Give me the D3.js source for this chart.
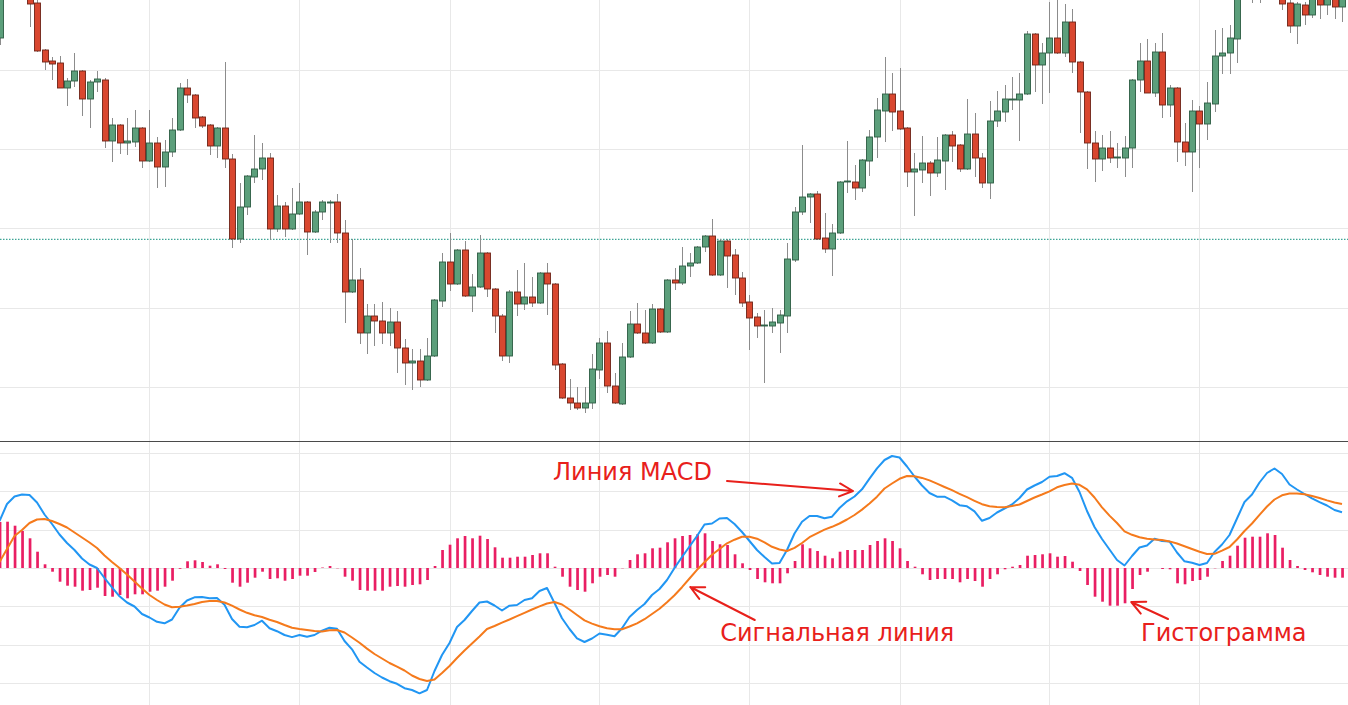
<!DOCTYPE html>
<html>
<head>
<meta charset="utf-8">
<script src="https://cdn.jsdelivr.net/npm/d3@7/dist/d3.min.js"></script>
<style>
  body { margin: 0; background: #fff; overflow: hidden; }
  svg { display: block; }
</style>
</head>
<body>
<div id="chart"></div>
<script>
// candles, one per bar, oldest first (price units)
var openP = [462,520,535,520,506,497,450,439,437,412, 419,429,401,418,420,359,375,357,358,372,
  339,357,333,348,370,412,405,383,375,354, 372,341,261,293,323,331,342,271,294,271,
  286,298,268,288,297,298,267,208,220,167, 184,179,167,178,152,137,139,120,144,199,
  238,216,250,204,213,247,211,184,144,208, 196,203,197,227,216,136,102,97,92,97,
  130,157,114,96,143,176,167,157,191,168, 220,217,234,237,253,264,225,259,245,222,
  198,183,174,174,177,184,240,288,303,306, 262,251,267,318,318,312,339,363,389,406,
  389,372,328,330,337,327,339,365,355,331, 366,342,317,379,388,400,400,406,466,435,
  447,462,447,478,438,408,357,341,352,342, 342,352,420,439,407,448,395,412,358,348,
  389,376,396,444,447,461,515,528,518,530, 520,508,497,474,495,485,503,495,504,493];
var highP = [525,545,550,525,512,500,451,443,444,422, 447,430,420,429,422,382,376,382,390,373,
  390,363,360,382,417,421,406,384,376,373, 438,346,317,325,365,357,347,305,298,312,
  317,299,290,300,300,306,280,261,232,196, 196,198,192,189,161,151,151,162,201,247,
  267,251,259,226,265,248,212,186,210,230, 237,223,228,237,217,137,121,113,113,146,
  162,169,127,157,189,197,190,196,192,221, 232,253,247,254,265,281,261,261,251,228,
  205,187,190,192,190,257,293,355,307,309, 287,276,319,359,335,341,370,402,443,427,
  432,373,347,364,339,363,366,369,356,401, 387,347,399,409,415,423,427,469,467,457,
  498,502,496,491,439,409,369,365,369,357, 364,421,457,461,457,467,415,413,377,400,
  394,418,470,472,475,520,540,540,545,540, 530,515,500,498,498,508,508,510,510,508];
var lowP = [455,510,512,502,473,448,430,420,412,394, 413,384,372,408,352,338,346,345,353,332,
  338,312,313,343,369,397,372,372,345,342, 332,252,257,285,317,320,260,268,263,270,
  285,245,267,280,257,257,177,207,156,146, 154,156,154,127,115,110,113,119,143,193,
  209,215,203,188,212,203,167,139,137,184, 190,193,196,185,130,101,90,90,87,91,
  121,107,96,95,142,166,156,156,167,167, 210,215,223,236,248,224,224,212,205,193,
  150,162,117,167,147,167,238,285,277,260, 247,224,266,307,300,308,324,342,358,369,
  370,313,284,317,304,323,310,338,328,330, 323,312,301,373,378,390,359,405,408,396,
  407,446,443,427,367,331,318,329,337,332, 323,332,408,407,403,382,383,338,334,308,
  332,360,388,426,426,437,508,497,497,505, 503,490,467,456,475,482,481,485,481,478];
var closeP = [515,535,520,508,496,449,438,436,412,419, 429,401,418,421,359,375,357,359,372,339,
  357,333,348,370,412,405,382,374,354,372, 341,261,293,324,331,342,271,294,271,286,
  298,268,288,298,298,267,208,220,167,184, 179,167,178,152,137,139,120,144,200,238,
  216,250,204,213,247,211,184,144,208,196, 203,197,227,216,135,102,97,92,97,131,
  157,114,97,143,176,167,157,191,168,220, 217,234,237,253,264,225,259,244,222,197,
  182,174,175,178,185,241,288,303,306,261, 251,267,318,319,312,340,363,390,406,388,
  371,328,331,337,327,340,365,354,331,366, 342,317,379,389,401,401,406,466,435,447,
  462,447,478,438,408,357,341,352,342,343, 352,420,439,407,448,395,412,358,348,389,
  376,397,444,447,462,515,530,518,530,520, 510,496,474,496,485,503,495,504,493,504];
var lastPrice = 260.7;

// MACD pane, same bars
var macdLine = [47,64,71.5,73.5,73,65.5,53.5,44,33.5,25, 18,9.5,3.5,0,-10,-19.4,-28.3,-34.5,-38.5,-46,
  -49.5,-53.8,-55.3,-51.5,-39.7,-32.5,-29.3,-29,-30.3,-30, -36.7,-51,-58.7,-59.2,-57,-52.7,-60.3,-63.2,-67,-69.1,
  -67,-68.8,-67,-62.7,-59.7,-60.8,-73,-81.3,-93.7,-99.5, -105,-109.5,-113.2,-115.8,-120.2,-122,-125.3,-122,-103,-87,
  -75,-59,-52,-43,-34.5,-33.5,-37.5,-42.5,-37.7,-37, -32,-30.3,-23,-20,-35,-50.3,-61,-70.3,-74,-70.5,
  -65.5,-66.8,-68.3,-60.3,-49,-42,-36,-27,-21,-12, 0,11,21.5,32,43.5,44.5,49.5,50,44,36,
  27,18,11,4.5,5,18,34.5,46.3,52,52, 49.7,51.3,60,66.7,71.5,78.7,89.3,99.7,108,112,
  110.5,101.5,91.5,82.5,75,71.3,71.3,67.7,62.8,61.7, 56.7,47.2,50,55.5,59.5,63.5,70,78.5,82.5,86,
  91.2,92,94.8,90.2,76,57,41,29,18.5,8, 2.5,12,20.5,22.5,29.3,27,26.5,15.5,6.7,5.2,
  3,5,16,23.5,33,49.5,66,73.5,85.5,95, 99.5,94,83.5,78.5,74,69.7,65.8,62.5,58,55.8];
var signalLine = [6,19,32,38,45,48.5,49,47,44,40.5, 35.5,30.5,25.5,20,12.5,6,0,-6.5,-13.5,-20.5,
  -27,-32,-36.5,-39.3,-38.8,-37.5,-36,-34,-33,-33, -34.5,-37.7,-41.5,-44.8,-47.3,-49,-51.7,-54,-57,-59.8,
  -61,-62,-63,-63.5,-62.2,-62,-64.5,-69.5,-74.8,-80.6, -86,-90.5,-95,-98.7,-102.5,-107.5,-111,-113,-111.5,-105,
  -98,-90,-82.5,-75.5,-68.5,-61,-58,-54.6,-51.5,-48.2, -44.8,-41.5,-38.4,-35.5,-34,-36.5,-41.5,-47,-52.4,-55.6,
  -58.3,-60.2,-61.2,-61.3,-58.5,-55.3,-51.2,-46,-40.8,-34.2, -27.3,-19.2,-10.5,-1.8,5.8,13.2,19,24.7,28.3,31.3,
  31.3,29.3,25.7,21.2,18.5,17,20.2,25,30.8,34.7, 38.4,41.2,44.5,48.5,53,58.4,64.5,71.3,79.5,84.5,
  89.2,92,91.7,90.1,87.6,84.3,81,77.8,74.2,70.8, 67.2,63.8,61.8,61,60.7,62,63.5,67,70.5,73.5,
  76.7,80.7,83,84.5,83.2,78.7,70.5,60.7,52.4,45, 36.7,33.2,30.8,29.2,28.5,28,26.6,24.5,21.8,19,
  16.2,14,14.2,17.4,21,28.5,37,44.5,53.2,61.5, 68.5,72.7,74.4,74.4,73.7,72,70,67.6,65.5,64];
var histogram = [46,46.3,42.3,37,29.7,16.3,3.7,-3.7,-13.7,-17.7, -18.7,-22.7,-22,-19.7,-28,-28.7,-27,-30.3,-26.3,-26.3,
  -23.7,-22.7,-18.7,-12.7,-0.8,6.7,7.7,6,2.3,3.7, -1,-14.7,-18.7,-14.7,-9.7,-3.7,-11,-10.3,-12.7,-11,
  -7.7,-7.7,-4,0.5,2,-0.3,-8.7,-12.7,-22,-22.7, -22.7,-22.7,-18.7,-18,-18.7,-17,-16.3,-12,2,18,
  23.3,29.7,32,29.7,32.3,29,20.7,10.3,10.3,11.3, 11.3,13,14.7,14.7,1.3,-8.7,-18.7,-22,-23.7,-15.3,
  -8.7,-7,-8.7,-0.3,8,13.7,14.7,19.7,20.3,25.7, 29.7,32,33,33.7,34.7,27,23.7,23,13.7,4.7,
  -2,-11,-14.3,-15.3,-15.3,-5.3,7,23.7,19.7,17, 12.3,9.7,16.3,18,18,18,23,27,29.7,27,
  19.7,7,1.3,-6.3,-12,-11,-11,-11,-14.3,-11, -13,-18.7,-11,-6.3,-1.3,1.3,3,12.3,13,13.7,
  14.7,11.3,12,6.3,-3,-17,-28.7,-33.7,-37.7,-37.7, -35.3,-21,-7,-3.7,0,-1,-1.3,-15.3,-16.3,-13,
  -12,-8.7,-0.3,7,12.3,22.3,30.3,31.3,31.3,34.7, 33,20.3,8,2,-2,-4.3,-7,-8.7,-9.7,-9.7];

// grid levels
var priceGrid = [430, 350.8, 271.7, 192.5, 113.3];
var macdGrid = [115, 76.7, 38.3, 0, -38.3, -76.7, -115];
var timeGrid = [20, 40, 60, 80, 100, 120, 140, 160];

// callouts, placed in bar / MACD units
var notes = [
  {text: "Линия MACD", tx: 73.8, ty: 88, from: [97, 87], to: [113.8, 77]},
  {text: "Сигнальная линия", tx: 96.1, ty: -73, from: [100.7, -52], to: [92.1, -19]},
  {text: "Гистограмма", tx: 152.2, ty: -73, from: [155.8, -51], to: [150.9, -34]}
];

var width = 1348;
var height = 705;
var split = 441;

var svg = d3.select("#chart").append("svg")
    .attr("width", width)
    .attr("height", height);

var x = d3.scaleLinear().domain([0, 179]).range([-0.5, 1342]);
var yPrice = d3.scaleLinear().domain([500, 59]).range([0, split]);
var yMacd = d3.scaleLinear().domain([127, -137]).range([split, height]);

var defs = svg.append("defs");
defs.append("clipPath").attr("id", "clipTop")
    .append("rect").attr("x", 0).attr("y", 0).attr("width", width).attr("height", split);
defs.append("clipPath").attr("id", "clipBottom")
    .append("rect").attr("x", 0).attr("y", split).attr("width", width).attr("height", height - split);

var gridColor = "#e8e8e8";

// vertical grid, both panes
svg.append("g").selectAll("line")
    .data(timeGrid).enter().append("line")
    .attr("x1", function (d) { return Math.round(x(d)) + 0.5; })
    .attr("x2", function (d) { return Math.round(x(d)) + 0.5; })
    .attr("y1", 0)
    .attr("y2", height)
    .attr("stroke", gridColor);

svg.append("g").selectAll("line")
    .data(priceGrid).enter().append("line")
    .attr("x1", 0).attr("x2", width)
    .attr("y1", function (d) { return Math.round(yPrice(d)) + 0.5; })
    .attr("y2", function (d) { return Math.round(yPrice(d)) + 0.5; })
    .attr("stroke", gridColor);

svg.append("g").selectAll("line")
    .data(macdGrid).enter().append("line")
    .attr("x1", 0).attr("x2", width)
    .attr("y1", function (d) { return Math.round(yMacd(d)) + 0.5; })
    .attr("y2", function (d) { return Math.round(yMacd(d)) + 0.5; })
    .attr("stroke", gridColor);

// price pane
var pricePane = svg.append("g").attr("clip-path", "url(#clipTop)");

pricePane.append("line")
    .attr("x1", 0).attr("x2", width)
    .attr("y1", yPrice(lastPrice)).attr("y2", yPrice(lastPrice))
    .attr("stroke", "#3fa596")
    .attr("stroke-width", 1.3)
    .attr("stroke-dasharray", "1.5,1.5");

var bars = d3.range(openP.length).map(function (i) {
    return {i: i, o: openP[i], h: highP[i], l: lowP[i], c: closeP[i]};
});

pricePane.append("g").selectAll("line")
    .data(bars).enter().append("line")
    .attr("x1", function (d) { return Math.round(x(d.i)) + 0.5; })
    .attr("x2", function (d) { return Math.round(x(d.i)) + 0.5; })
    .attr("y1", function (d) { return yPrice(d.h); })
    .attr("y2", function (d) { return yPrice(d.l); })
    .attr("stroke", "#8c8c8c")
    .attr("stroke-width", 1);

pricePane.append("g").selectAll("rect")
    .data(bars).enter().append("rect")
    .attr("x", function (d) { return Math.round(x(d.i)) - 2.5; })
    .attr("width", 6)
    .attr("y", function (d) { return yPrice(Math.max(d.o, d.c)); })
    .attr("height", function (d) { return Math.max(1, Math.abs(yPrice(d.o) - yPrice(d.c))); })
    .attr("fill", function (d) { return d.c >= d.o ? "#5c9f7b" : "#d9472f"; })
    .attr("stroke", function (d) { return d.c >= d.o ? "#2d5c43" : "#6e2418"; })
    .attr("stroke-width", 0.9);

svg.append("line")
    .attr("x1", 0).attr("x2", width)
    .attr("y1", split + 0.5).attr("y2", split + 0.5)
    .attr("stroke", "#4a4a4a")
    .attr("stroke-width", 1.2);

// MACD pane
var macdPane = svg.append("g").attr("clip-path", "url(#clipBottom)");

macdPane.append("g").selectAll("rect")
    .data(histogram).enter().append("rect")
    .attr("x", function (d, i) { return x(i) - 0.8; })
    .attr("width", 2.7)
    .attr("y", function (d) { return yMacd(Math.max(d, 0)); })
    .attr("height", function (d) { return Math.abs(yMacd(d) - yMacd(0)); })
    .attr("fill", "#e91e63");

var line = d3.line()
    .x(function (d, i) { return x(i); })
    .y(function (d) { return yMacd(d); });

macdPane.append("path")
    .datum(macdLine)
    .attr("d", line)
    .attr("fill", "none")
    .attr("stroke", "#2196f3")
    .attr("stroke-width", 2)
    .attr("stroke-linejoin", "round");

macdPane.append("path")
    .datum(signalLine)
    .attr("d", line)
    .attr("fill", "none")
    .attr("stroke", "#f57a1c")
    .attr("stroke-width", 2)
    .attr("stroke-linejoin", "round");

// callouts
var red = "#e8201b";
var ann = svg.append("g");

ann.selectAll("text")
    .data(notes).enter().append("text")
    .attr("x", function (d) { return x(d.tx); })
    .attr("y", function (d) { return yMacd(d.ty); })
    .attr("fill", red)
    .style("font-family", "'DejaVu Sans', Verdana, sans-serif")
    .style("font-size", "24px")
    .text(function (d) { return d.text; });

ann.selectAll("path")
    .data(notes).enter().append("path")
    .attr("d", function (d) {
        var x1 = x(d.from[0]), y1 = yMacd(d.from[1]);
        var x2 = x(d.to[0]), y2 = yMacd(d.to[1]);
        var a = Math.atan2(y2 - y1, x2 - x1);
        var len = 15, spread = 0.45;
        var p1 = [x2 - len * Math.cos(a - spread), y2 - len * Math.sin(a - spread)];
        var p2 = [x2 - len * Math.cos(a + spread), y2 - len * Math.sin(a + spread)];
        return "M" + x1 + "," + y1 + "L" + x2 + "," + y2 +
            "M" + p1[0] + "," + p1[1] + "L" + x2 + "," + y2 + "L" + p2[0] + "," + p2[1];
    })
    .attr("fill", "none")
    .attr("stroke", red)
    .attr("stroke-width", 2)
    .attr("stroke-linecap", "round")
    .attr("stroke-linejoin", "round");
</script>
</body>
</html>
